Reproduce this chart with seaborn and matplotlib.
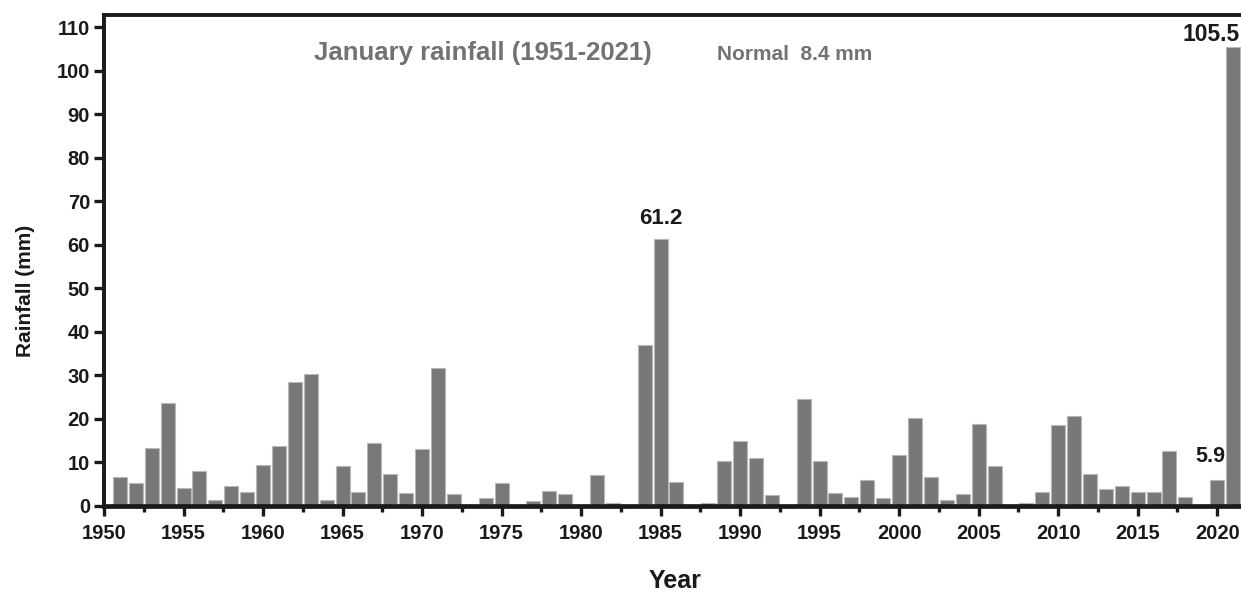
import matplotlib
matplotlib.use("Agg")
import matplotlib.pyplot as plt
import seaborn as sns
import numpy as np
import pandas as pd
from matplotlib.ticker import FixedLocator

years = list(range(1951, 2022))
rainfall = [6.7, 5.3, 13.2, 23.7, 4.1, 7.9, 1.3, 4.5, 3.1, 9.4,
            13.8, 28.4, 30.2, 1.2, 9.2, 3.1, 14.3, 7.4, 2.9, 13.0,
            31.7, 2.7, 0.0, 1.8, 5.2, 0.0, 1.1, 3.3, 2.6, 0.0,
            7.1, 0.6, 0.0, 36.9, 61.2, 5.5, 0.0, 0.6, 10.3, 14.9,
            10.9, 2.5, 0.0, 24.5, 10.3, 2.9, 2.1, 5.9, 1.8, 11.7,
            20.1, 6.6, 1.2, 2.8, 18.7, 9.1, 0.0, 0.6, 3.2, 18.5,
            20.7, 7.4, 3.9, 4.6, 3.1, 3.1, 12.6, 2.0, 0.0, 5.9,
            105.5]
yticks = list(range(0, 111, 10))
xticks = list(range(1950, 2021, 5))

df = pd.DataFrame({"Year": years, "Rainfall": rainfall})

sns.set_theme(style="white")
plt.rcParams['font.family'] = ['Liberation Sans', 'DejaVu Sans']
plt.rcParams['font.weight'] = 'bold'

fig = plt.figure(figsize=(12.41, 5.92), dpi=100)
W, H = 1241, 592
ax = fig.add_axes([104 / W, 1 - 505.7 / H, (1241 - 104) / W, (505.7 - 15) / H])

sns.barplot(data=df, x="Year", y="Rainfall", native_scale=True, width=0.88,
            color="#78787b", saturation=1, edgecolor="#b8b8b8", linewidth=0.8, ax=ax)

ax.set_xlim(1950, 2021.5)
ax.set_ylim(0, 112.8)

for s in ["left", "top"]:
    ax.spines[s].set_linewidth(2.8)
    ax.spines[s].set_color("#1a1a1a")
ax.spines["bottom"].set_linewidth(3.4)
ax.spines["bottom"].set_color("#1a1a1a")
ax.spines["right"].set_visible(False)

ax.set_xticks(xticks)
ax.set_xticklabels([str(t) for t in xticks])
ax.xaxis.set_minor_locator(FixedLocator([t + 2.5 for t in xticks]))
ax.set_yticks(yticks)
ax.tick_params(axis="both", which="major", direction="out", length=7, width=2.4,
               color="#1a1a1a", labelsize=14.5, labelcolor="#1a1a1a")
ax.tick_params(axis="x", which="major", pad=6)
ax.tick_params(axis="y", which="major", pad=3)
ax.tick_params(axis="x", which="minor", direction="out", length=4.5, width=2.4,
               color="#1a1a1a")
ax.tick_params(axis="x", which="both", bottom=True, top=False)
ax.tick_params(axis="y", which="both", left=True, right=False)
for lab in ax.get_xticklabels() + ax.get_yticklabels():
    lab.set_fontweight("bold")

ax.set_xlabel("Year", fontsize=18, fontweight="bold", color="#1a1a1a")
ax.set_ylabel("Rainfall (mm)", fontsize=15, fontweight="bold", color="#1a1a1a")
ax.xaxis.set_label_coords(0.502, -0.129)
ax.yaxis.set_label_coords(-0.061, 0.4375)

ax.text(1973.85, 102.5, "January rainfall (1951-2021)", ha="center", va="baseline",
        fontsize=18.5, fontweight="bold", color="#727274")
ax.text(1993.4, 102.5, "Normal  8.4 mm", ha="center", va="baseline",
        fontsize=15, fontweight="bold", color="#727274")

ax.text(1985, 63.6, "61.2", ha="center", va="bottom", fontsize=16,
        fontweight="bold", color="#1a1a1a")
ax.text(2021.4, 105.7, "105.5", ha="right", va="bottom", fontsize=16.5,
        fontweight="bold", color="#1a1a1a")
ax.text(2019.6, 8.9, "5.9", ha="center", va="bottom", fontsize=15.5,
        fontweight="bold", color="#1a1a1a")

fig.savefig("out.png", dpi=100)
